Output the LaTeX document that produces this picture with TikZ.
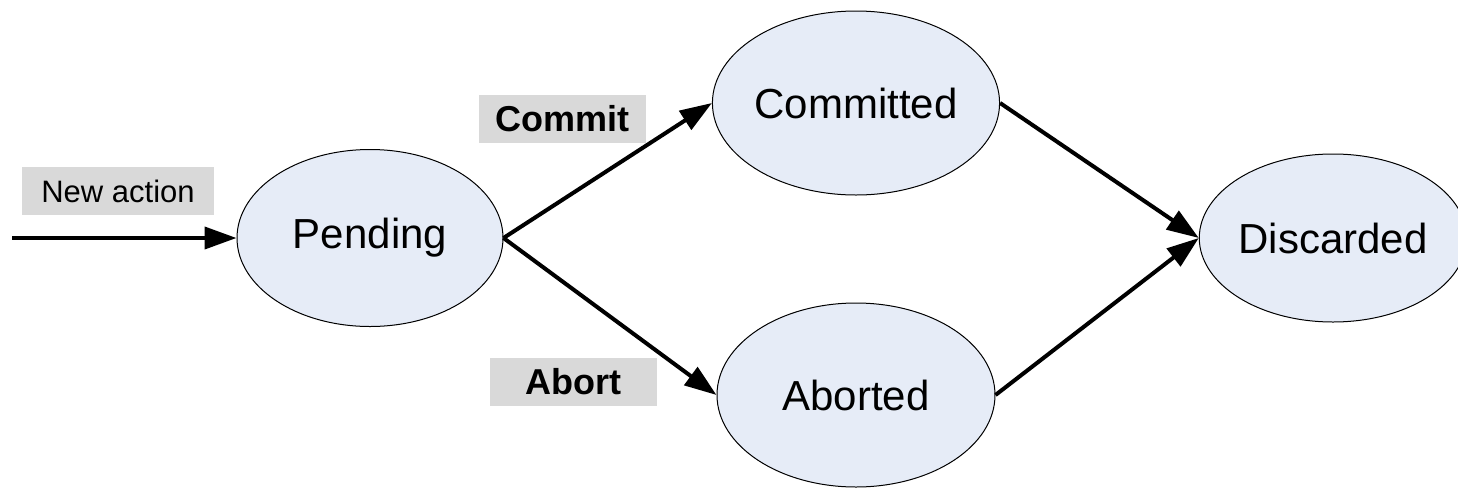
\documentclass[tikz,border=0pt]{standalone}
\usepackage{fontspec}
\setmainfont{Liberation Sans}
\usetikzlibrary{shapes.geometric,arrows.meta}
\definecolor{statefill}{RGB}{230,236,247}
\definecolor{tagfill}{RGB}{217,217,217}
\begin{document}
\begin{tikzpicture}[x=0.5pt,y=-0.5pt,
  state/.style={ellipse,draw=black,line width=0.5pt,fill=statefill,inner sep=0pt,
    font=\fontsize{21pt}{25pt}\selectfont},
  tag/.style={fill=tagfill,inner sep=0pt,minimum height=24pt},
  flow/.style={line width=2pt,-{Triangle[length=16pt,width=11pt]}}]
  \useasboundingbox (0,0) rectangle (1458,488);

  % states
  \node[state,minimum width=133pt,minimum height=88.5pt] (P) at (370,238) {Pending};
  \node[state,minimum width=139pt,minimum height=92pt] (C) at (856,103) {Committed};
  \node[state,minimum width=139pt,minimum height=92pt] (A) at (856,395) {Aborted};
  \node[state,minimum width=124pt,minimum height=84pt] (D) at (1333,238) {Discarded};

  % transition labels
  \node[tag,minimum width=96pt,font=\fontsize{15.5pt}{18pt}\selectfont] (lnew) at (118,191) {New action};
  \node[tag,minimum width=83.5pt,font=\fontsize{18pt}{21pt}\selectfont\bfseries] (lcommit) at (562.5,119) {Commit};
  \node[tag,minimum width=83.5pt,font=\fontsize{18pt}{21pt}\selectfont\bfseries] (labort) at (573.5,382) {Abort};

  % transitions
  \coordinate (start) at (12,238);
  \draw[flow] (start) -- (P.west);
  \draw[flow] (P.east) -- (C.west);
  \draw[flow] (P.east) -- (A.west);
  \draw[flow] (C.east) -- (D.west);
  \draw[flow] (A.east) -- (D.west);
\end{tikzpicture}
\end{document}
